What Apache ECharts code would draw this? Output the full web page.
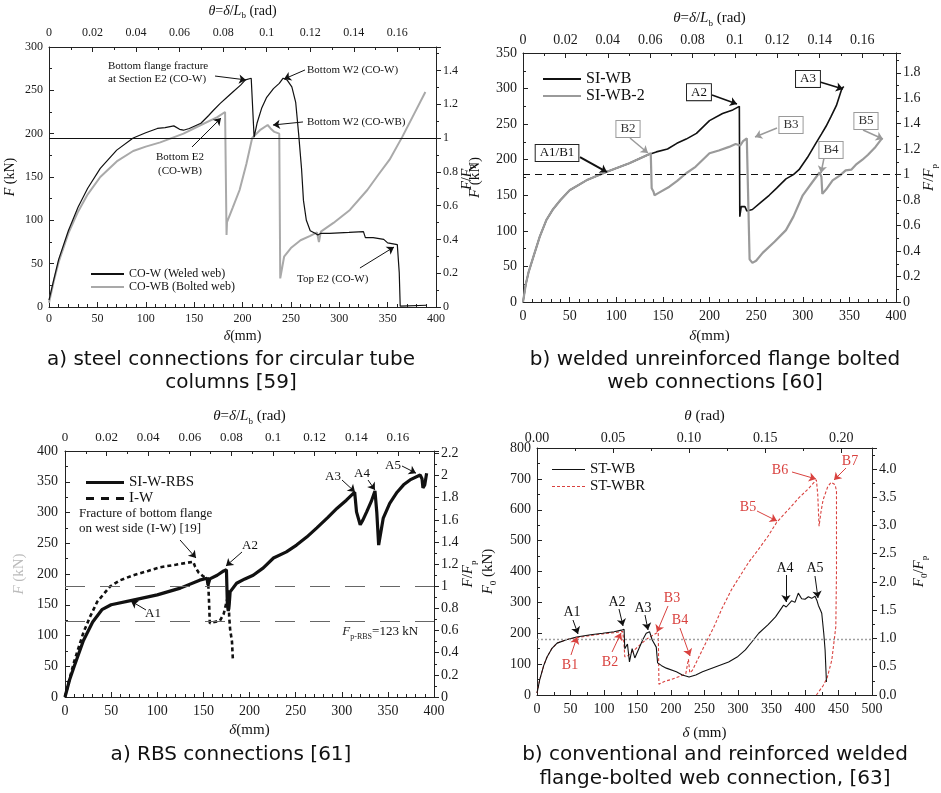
<!DOCTYPE html>
<html><head><meta charset="utf-8">
<script src="https://cdn.jsdelivr.net/npm/echarts@6/dist/echarts.min.js"></script>
<style>html,body{margin:0;padding:0;background:#fff}#c{width:941px;height:793px}</style>
</head><body><div id="c"></div>
<script>
// ================= DATA (delta mm, F kN) =================
const aCoW = [[0,8],[5,32],[10,55],[20,88],[30,115],[40,137],[53,160],[70,181],[87,195],[100,201],[112,206],[120,207],[129,209],[135,205],[139,204],[145,206],[157,212],[165,221],[170,227],[177,235],[184,242],[190,248],[198,256],[203,262],[209,264],[211,262],[212,196],[215,212],[220,230],[225,242],[232,252],[238,258],[242,264],[246,262],[251,254],[255,236],[258,200],[261,160],[263,123],[266,100],[270,88],[275,85],[278,83],[281,85],[290,85],[310,86],[325,87],[327,80],[335,80],[346,78],[350,74],[360,72],[362,40],[363,1],[365,2],[390,2]];
const aCoWB = [[0,5],[5,30],[10,52],[20,85],[30,110],[40,130],[53,150],[70,168],[87,180],[100,185],[115,190],[139,200],[157,210],[174,219],[182,225],[183,224],[183.5,83],[184,98],[190,115],[197,135],[204,165],[210,195],[218,204],[226,210],[229,206],[233,202],[238,200],[239,33],[243,58],[250,68],[260,77],[270,82],[277,86],[279,75],[281,87],[294,97],[311,112],[329,135],[340,152],[352,170],[365,196],[377,222],[389,248]];
const bSIWB = [[0,0],[3,25],[6,42],[11,63],[18,92],[25,115],[32,130],[40,143],[50,157],[68,171],[90,183],[114,195],[134,207],[143,211],[155,215],[165,223],[175,229],[186,237],[200,255],[214,265],[225,270],[232,275],[232.5,120],[234,134],[238,134],[240,128],[246,130],[255,140],[264,150],[272,160],[282,173],[290,179],[296,186],[305,203],[314,223],[320,236],[325,247],[330,260],[336,276],[342,300],[344,303]];
const bSIWB2 = [[0,0],[3,25],[6,42],[11,63],[18,92],[25,115],[32,130],[40,143],[50,157],[68,171],[90,183],[114,195],[134,207],[137,209],[138,160],[140,155],[141,150],[145,153],[157,162],[165,170],[175,181],[185,190],[200,209],[210,213],[221,218],[228,222],[233,220],[236,226],[240,230],[242,231],[243,60],[246,55],[250,58],[257,69],[270,85],[282,101],[290,120],[300,150],[310,168],[318,182],[320,176],[321,152],[325,158],[332,171],[340,178],[346,185],[352,186],[357,193],[364,200],[370,207],[378,218],[385,230]];
const cRBS = [[0,0],[5,28],[10,50],[20,92],[30,122],[40,142],[50,150],[75,158],[100,166],[125,177],[146,190],[154,193],[155,182],[157,192],[165,198],[172,205],[175,207],[176,150],[177,140],[178,150],[179,171],[186,185],[195,192],[204,198],[215,210],[226,226],[240,236],[251,247],[262,260],[273,275],[285,292],[295,307],[305,320],[314,333],[316,301],[320,280],[323,288],[327,301],[332,318],[336,335],[338,300],[340,247],[345,291],[352,315],[360,333],[367,345],[374,353],[385,361],[387,355],[388,340],[390,345],[392,364]];
const cIW = [[0,0],[5,30],[10,58],[20,105],[27,130],[35,155],[49,180],[60,190],[74,198],[90,205],[103,211],[120,215],[139,220],[141,212],[145,202],[150,196],[155,193],[156,160],[157,120],[162,122],[168,124],[172,135],[176,160],[177,175],[178,130],[179,110],[181,90],[182,60]];
const dWB = [[0,6],[4,49],[10,95],[15,123],[22,150],[30,168],[45,180],[59,188],[80,195],[98,200],[115,205],[126,210],[130,213],[131,150],[135,165],[138,107],[142,150],[146,120],[152,150],[158,180],[163,200],[168,205],[172,178],[178,155],[180,104],[186,95],[193,87],[208,75],[217,65],[227,58],[237,65],[247,75],[265,90],[286,107],[300,125],[311,146],[320,170],[331,200],[345,228],[356,253],[368,291],[372,285],[380,305],[385,300],[390,330],[395,312],[400,310],[405,318],[410,313],[415,320],[418,305],[420,290],[423,275],[425,265],[428,200],[430,146],[432,42]];
const dWBR = [[0,6],[4,49],[10,95],[15,123],[22,150],[30,168],[45,180],[59,185],[80,193],[98,198],[115,202],[128,206],[130,160],[131,124],[134,124],[145,145],[155,165],[165,183],[178,200],[181,203],[182,35],[190,44],[200,50],[215,62],[222,68],[226,116],[228,72],[232,80],[250,160],[265,225],[276,280],[290,340],[300,375],[316,430],[330,470],[345,515],[358,560],[375,600],[390,637],[405,668],[417,697],[419,650],[421,547],[424,595],[427,632],[434,675],[439,689],[445,681],[447,660],[447,400],[446,221],[440,113],[433,55],[427,30],[417,0]];
// reference forces (kN) and beam lengths (mm) for the secondary axes
const aFp = 195, bFp = 179, cFp = 180, cFpRBS = 123, dFp = 183, dLevel = 180;
const aLb = 2250, bLb = 2273, cLb = 2256, dLb = 2270;
// series names
const names = {a1:'CO-W (Weled web)', a2:'CO-WB (Bolted web)', b1:'SI-WB', b2:'SI-WB-2', c1:'SI-W-RBS', c2:'I-W', d1:'ST-WB', d2:'ST-WBR'};

// ================= HELPERS =================
const SERIF = 'Liberation Serif';
function rich(fs, color){ color = color || '#111'; return {
  i:{fontFamily:SERIF, fontStyle:'italic', fontSize:fs, color, lineHeight:fs+4},
  s:{fontFamily:SERIF, fontSize:Math.round(fs*0.62), color, verticalAlign:'bottom', lineHeight:Math.round(fs*0.62)},
  n:{fontFamily:SERIF, fontSize:fs, color, lineHeight:fs+4}
};}
const multFmt = (step, dec) => v => { const k = v/step; if (Math.abs(k-Math.round(k))>1e-6) return ''; return dec==null ? String(+v.toFixed(6)) : v.toFixed(dec); };
function axis(o){
  return {
    type:'value', gridIndex:o.g, position:o.pos, min:o.min, max:o.max, interval:o.int,
    name:o.name, nameLocation:'middle', nameGap:o.gap, nameRotate:o.rot, nameMoveOverlap:false,
    nameTextStyle:{fontFamily:SERIF, fontSize:o.nfs, color:o.ncol||'#111', rich:rich(o.nfs, o.ncol)},
    axisLine:{show:true, onZero:false, lineStyle:{color:'#222', width:1}},
    axisTick:{show:true, inside:!o.out, length:5, lineStyle:{color:'#222'}},
    minorTick:{show:true, splitNumber:o.minor, length:3, lineStyle:{color:'#222'}},
    splitLine:{show:false}, minorSplitLine:{show:false},
    axisLabel:{fontFamily:SERIF, fontSize:o.fs, color:'#1a1a1a', margin:o.margin, formatter:o.fmt || multFmt(o.int)}
  };
}
function line(name, data, g, style, extra){
  return Object.assign({type:'line', name, data, xAxisIndex:2*g, yAxisIndex:2*g, symbol:'none', showSymbol:false,
    silent:true, animation:false, lineStyle:style, itemStyle:{color:style.color}, z:3}, extra||{});
}
function arrows(list){
  return {silent:true, animation:false, symbol:['none','arrow'], symbolSize:7, label:{show:false},
    data:list.map(a=>[{coord:a[0], lineStyle:{color:a[2]||'#111', width:a[3]||1, type:'solid'}},{coord:a[1]}])};
}
function texts(list){
  return {silent:true, animation:false, symbol:'circle', symbolSize:0,
    data:list.map(t=>({coord:t.at, value:0, itemStyle:{color:'transparent'},
      label:Object.assign({show:true, position:'inside', formatter:t.text, fontFamily:SERIF, fontSize:12, color:'#111'}, t.label||{})}))};
}
function refLines(list){
  return {silent:true, animation:false, symbol:'none', label:{show:false},
    data:list.map(r=>({yAxis:r[0], lineStyle:r[1]}))};
}
// legend icons (path boxes sized exactly like the legend item so aspect is kept)
const ICON_DASH_C = 'path://M0,0h8v3h-8zM15,0h8v3h-8zM30,0h8v3h-8z';
const ICON_DASH_D = 'path://M0,0h3v1h-3zM5,0h3v1h-3zM10,0h3v1h-3zM15,0h3v1h-3zM20,0h3v1h-3zM25,0h3v1h-3zM30,0h3v1h-3z';
function legend(items, left, top, w, h, gap, fs){
  return {data:items.map(it=>({name:it[0], icon:it[1]})), left, top, orient:'vertical', itemWidth:w, itemHeight:h, itemGap:gap, selectedMode:false,
    textStyle:{fontFamily:SERIF, fontSize:fs, color:'#111'}};
}

// ================= ANNOTATIONS =================
const annA = texts([
  {at:[61,270], text:'Bottom flange fracture\nat Section E2 (CO-W)', label:{align:'left', fontSize:11, lineHeight:13}},
  {at:[266.7,273.5], text:'Bottom W2 (CO-W)', label:{align:'left', fontSize:11}},
  {at:[266.7,213.5], text:'Bottom W2 (CO-WB)', label:{align:'left', fontSize:11}},
  {at:[135.4,165], text:'Bottom E2\n(CO-WB)', label:{fontSize:11, lineHeight:14}},
  {at:[256.3,32.3], text:'Top E2 (CO-W)', label:{align:'left', fontSize:11}}
]);
const arrA = arrows([
  [[171.6,266.5],[203.6,262]], [[264.6,273.5],[242.9,263]], [[262.5,213.5],[231.5,210]],
  [[147.8,184.6],[177.8,218]], [[321.4,45],[356.6,69.2]]
]);
const boxK = {fontSize:13, borderColor:'#222', borderWidth:1, padding:[2,4,1,4], backgroundColor:'#fff'};
const boxG = {fontSize:13, borderColor:'#9a9a9a', borderWidth:1, padding:[2,4,1,4], backgroundColor:'#fff', color:'#333'};
const annB = texts([
  {at:[36.5,209.5], text:'A1/B1', label:boxK}, {at:[112.6,243.2], text:'B2', label:boxG},
  {at:[188.7,295], text:'A2', label:boxK}, {at:[287.4,248.8], text:'B3', label:boxG},
  {at:[305.6,313.5], text:'A3', label:boxK}, {at:[330.3,213.7], text:'B4', label:boxG},
  {at:[367.8,254.4], text:'B5', label:boxG}
]);
const arrB = arrows([
  [[61.1,203.8],[90.1,182.7],'#111',2], [[114.7,230.5],[134,209.4],'#9a9a9a',1.5],
  [[202.7,291],[229.5,278.3],'#111',1.5], [[272.4,244.6],[248.8,232],'#9a9a9a',1.5],
  [[318.5,309.3],[343.2,299.4],'#111',1.5], [[322.8,202.4],[319.6,181.3],'#9a9a9a',1.5],
  [[364.6,241.8],[386,229.1],'#9a9a9a',1.5]
]);
const annC = texts([
  {at:[15.2,285.4], text:'Fracture of bottom flange\non west side (I-W) [19]', label:{align:'left', fontSize:13, lineHeight:15}},
  {at:[95.4,135], text:'A1', label:{fontSize:13}}, {at:[200.5,247], text:'A2', label:{fontSize:13}},
  {at:[290.5,357.7], text:'A3', label:{fontSize:13}}, {at:[322,364], text:'A4', label:{fontSize:13}},
  {at:[355.6,375.6], text:'A5', label:{fontSize:13}},
  {at:[382.7,105.7], text:'{i|F}{s|p-RBS}=123 kN', label:{align:'right', fontSize:13, rich:rich(13,'#222')}}
]);
const arrC = arrows([
  [[124.7,255.3],[142,226]], [[87.8,141.5],[71.5,156]], [[191.9,235.8],[174.5,213]],
  [[300.3,352.8],[314.4,333.3]], [[328.5,352.8],[336,336.6]], [[365.3,375.6],[380.5,364]]
]);
const RED = '#d9423f';
const redL = {fontSize:14, color:RED};
const blkL = {fontSize:14, color:'#111'};
const annD = texts([
  {at:[52.2,268.8], text:'A1', label:blkL}, {at:[119.4,301.2], text:'A2', label:blkL},
  {at:[158.2,281.8], text:'A3', label:blkL}, {at:[370.1,411.3], text:'A4', label:blkL},
  {at:[414.9,411.3], text:'A5', label:blkL},
  {at:[49.3,97.2], text:'B1', label:redL}, {at:[109,106.9], text:'B2', label:redL},
  {at:[201.5,314.2], text:'B3', label:redL}, {at:[213.4,242.9], text:'B4', label:redL},
  {at:[314.9,608.9], text:'B5', label:redL}, {at:[362.7,728.7], text:'B6', label:redL},
  {at:[467.2,757.9], text:'B7', label:redL}
]);
const arrD = arrows([
  [[53.7,242.9],[61.2,197.6]], [[122.4,278.5],[128.4,223.5]], [[161.2,259.1],[165.7,210.5]],
  [[371.6,388.7],[371.6,301.2]], [[414.9,385.4],[419.4,314.2]],
  [[50.7,129.6],[59.7,187.9],RED], [[112,139.3],[125.4,200.8],RED], [[195.5,288.3],[179.1,204],RED],
  [[213.4,217],[228.4,126.3],RED], [[328.4,596],[358.2,563.6],RED], [[380.6,722.3],[416.4,699.6],RED],
  [[461.2,735.2],[443.3,696.4],RED]
]);

// ================= OPTION =================
const thetaName = '{i|θ}={i|δ}/{i|L}{s|b} (rad)';
const option = {
  animation:false,
  backgroundColor:'#fff',
  textStyle:{fontFamily:SERIF},
  grid:[
    {left:49, top:47, width:387, height:260},
    {left:523, top:53, width:373, height:249},
    {left:65, top:451, width:369, height:246},
    {left:537, top:448, width:335, height:247}
  ],
  xAxis:[
    axis({g:0,pos:'bottom',min:0,max:400,int:50,minor:5,name:'{i|δ}(mm)',gap:20,nfs:14,fs:12,margin:6}),
    axis({g:0,pos:'top',min:0,max:400/aLb,int:0.02,minor:2,name:thetaName,gap:27,nfs:14,fs:12,margin:8}),
    axis({g:1,pos:'bottom',min:0,max:400,int:50,minor:5,name:'{i|δ}(mm)',gap:25,nfs:15,fs:14,margin:7}),
    axis({g:1,pos:'top',min:0,max:400/bLb,int:0.02,minor:2,name:thetaName,gap:25,nfs:15,fs:14,margin:6}),
    axis({g:2,pos:'bottom',min:0,max:400,int:50,minor:5,name:'{i|δ}(mm)',gap:24,nfs:15,fs:14,margin:7}),
    axis({g:2,pos:'top',min:0,max:400/cLb,int:0.02,minor:2,name:thetaName,gap:25,nfs:15,fs:13,margin:7}),
    axis({g:3,pos:'bottom',min:0,max:500,int:50,minor:2,name:'{i|δ} (mm)',gap:29,nfs:15,fs:14,margin:7}),
    axis({g:3,pos:'top',min:0,max:500/dLb,int:0.05,minor:2,name:'{i|θ} (rad)',gap:22,nfs:15,fs:14,margin:3,fmt:multFmt(0.05,2)})
  ],
  yAxis:[
    axis({g:0,pos:'left',min:0,max:300,int:50,minor:2,name:'{i|F} (kN)',gap:30,rot:90,nfs:14,fs:12,margin:6}),
    axis({g:0,pos:'right',min:0,max:300/aFp,int:0.2,minor:2,name:'{i|F}/{i|F}{s|p}',gap:22,rot:90,nfs:14,fs:12,margin:7,out:true}),
    axis({g:1,pos:'left',min:0,max:350,int:50,minor:2,name:'{i|F} (kN)',gap:38,rot:90,nfs:15,fs:14,margin:6}),
    axis({g:1,pos:'right',min:0,max:350/bFp,int:0.2,minor:2,name:'{i|F}/{i|F}{s|p}',gap:24,rot:90,nfs:15,fs:14,margin:7,out:true}),
    axis({g:2,pos:'left',min:0,max:400,int:50,minor:2,name:'{i|F} (kN)',gap:36,rot:90,nfs:15,fs:14,margin:7,ncol:'#bbb'}),
    axis({g:2,pos:'right',min:0,max:400/cFp,int:0.2,minor:2,name:'{i|F}/{i|F}{s|p}',gap:25,rot:90,nfs:15,fs:14,margin:7,out:true}),
    axis({g:3,pos:'left',min:0,max:800,int:100,minor:2,name:'{i|F}{s|0} (kN)',gap:39,rot:90,nfs:15,fs:14,margin:6}),
    axis({g:3,pos:'right',min:0,max:800/dFp,int:0.5,minor:2,name:'{i|F}{s|0}/{i|F}{s|p}',gap:38,rot:90,nfs:15,fs:14,margin:7,out:true,fmt:multFmt(0.5,1)})
  ],
  legend:[
    legend([[names.a1,'rect'],[names.a2,'rect']], 86, 263, 33, 2, 1, 12),
    legend([[names.b1,'rect'],[names.b2,'rect']], 538, 66, 38, 2, 1, 16),
    legend([[names.c1,'rect'],[names.c2,ICON_DASH_C]], 81, 470, 38, 3, 1, 15),
    legend([[names.d1,'rect'],[names.d2,ICON_DASH_D]], 547, 457, 33, 1, 2, 15)
  ],
  series:[
    line(names.a2, aCoWB, 0, {color:'#a9a9a9', width:2}, {markLine:refLines([[aFp,{color:'#111',width:1,type:'solid'}]])}),
    line(names.a1, aCoW, 0, {color:'#111', width:1.2}, {markLine:arrA, markPoint:annA, z:4}),
    line(names.b1, bSIWB, 1, {color:'#111', width:1.6}, {markLine:arrB, markPoint:annB, z:3}),
    line(names.b2, bSIWB2, 1, {color:'#9a9a9a', width:2.2}, {markLine:refLines([[bFp+1,{color:'#111',width:1.2,type:[7,5]}]]), z:4}),
    line(names.c2, cIW, 2, {color:'#111', width:2.6, type:[4,3]}, {markLine:refLines([[cFp,{color:'#666',width:1,type:[20,15]}],[cFpRBS,{color:'#666',width:1,type:[20,15]}]])}),
    line(names.c1, cRBS, 2, {color:'#111', width:3.2}, {markLine:arrC, markPoint:annC, z:4}),
    line(names.d2, dWBR, 3, {color:RED, width:1.1, type:[3,2]}, {markLine:refLines([[dLevel,{color:'#a0a0a0',width:1.3,type:[2,2]}]])}),
    line(names.d1, dWB, 3, {color:'#111', width:1.1}, {markLine:arrD, markPoint:annD, z:4})
  ],
  graphic:[
    {type:'text', x:231, y:348, style:{text:'a) steel connections for circular tube\ncolumns [59]', font:'20px "DejaVu Sans"', fill:'#111', align:'center', verticalAlign:'top', lineHeight:23}},
    {type:'text', x:715, y:348, style:{text:'b) welded unreinforced flange bolted\nweb connections [60]', font:'20px "DejaVu Sans"', fill:'#111', align:'center', verticalAlign:'top', lineHeight:23}},
    {type:'text', x:231, y:743, style:{text:'a) RBS connections [61]', font:'20px "DejaVu Sans"', fill:'#111', align:'center', verticalAlign:'top', lineHeight:23}},
    {type:'text', x:715, y:743, style:{text:'b) conventional and reinforced welded\nflange-bolted web connection, [63]', font:'20px "DejaVu Sans"', fill:'#111', align:'center', verticalAlign:'top', lineHeight:24}}
  ]
};
const chart = echarts.init(document.getElementById('c'), null, {renderer:'canvas'});
chart.setOption(option);
</script></body></html>
